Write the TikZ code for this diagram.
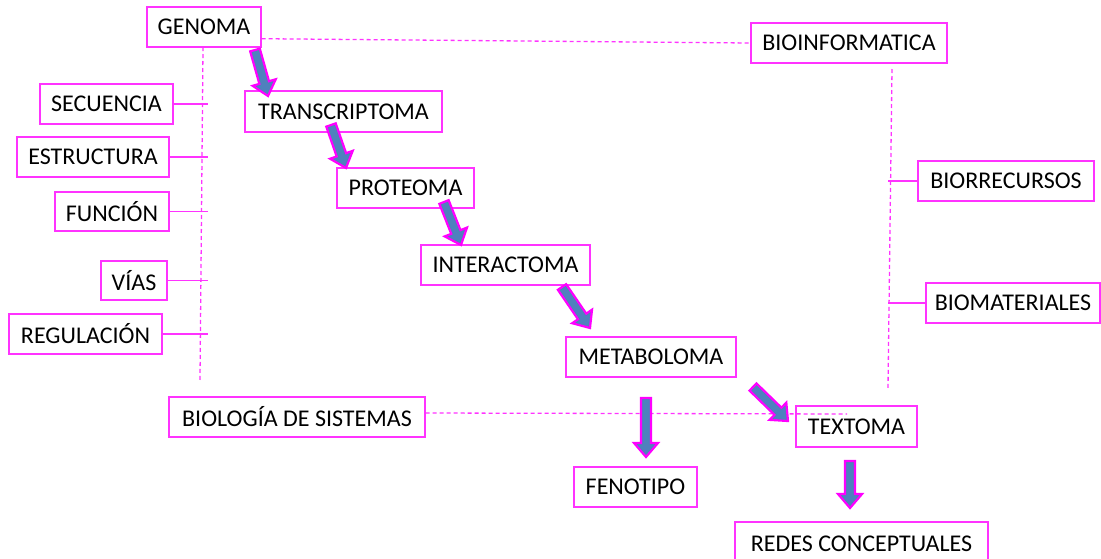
\documentclass[tikz,border=0pt]{standalone}
\usepackage{fontspec}
\setmainfont{Carlito}
\usetikzlibrary{calc}
\definecolor{mag}{HTML}{FF33FF}
\definecolor{amag}{HTML}{FF00FF}
\definecolor{ablue}{HTML}{4F81BD}
\tikzset{
  box/.style={draw=mag, line width=1.4pt, inner sep=0pt, font=\fontsize{24}{28}\selectfont, text=black},
  dline/.style={draw=mag, line width=1.3pt, dash pattern=on 4pt off 3pt},
  sline/.style={draw=mag, line width=1.3pt},
  fatarrow/.style={fill=ablue, draw=amag, line width=2.2pt, line join=miter},
}
\newcommand\bx[6]{%
  \pgfmathsetmacro\bxw{#4-#3}\pgfmathsetmacro\bxh{#6-#5}%
  \pgfmathsetmacro\bxx{(#3+#4)/2}\pgfmathsetmacro\bxy{(#5+#6)/2}%
  \node[box, minimum width=\bxw pt, minimum height=\bxh pt] (#1) at (\bxx,\bxy) {#2};}
\newcommand\fatarr[2]{%
  \coordinate (fh) at ($(#2)!14pt!(#1)$);
  \filldraw[fatarrow] ($(#1)!5pt!90:(#2)$) -- ($(fh)!5pt!90:(#2)$) -- ($(fh)!12pt!90:(#2)$) -- (#2)
    -- ($(fh)!12pt!-90:(#2)$) -- ($(fh)!5pt!-90:(#2)$) -- ($(#1)!5pt!-90:(#2)$) -- cycle;}
\begin{document}
\begin{tikzpicture}[x=1pt,y=-1pt]
\clip (0,0) rectangle (1101,558);
\fill[white] (0,0) rectangle (1101,558);
% boxes
\bx{genoma}{GENOMA}{147}{261}{7}{47}
\bx{transcriptoma}{TRANSCRIPTOMA}{245}{442}{91}{132}
\bx{proteoma}{PROTEOMA}{337}{474}{168}{208}
\bx{interactoma}{INTERACTOMA}{421}{590}{245}{285}
\bx{metaboloma}{METABOLOMA}{566}{736}{337}{377}
\bx{textoma}{TEXTOMA}{796}{917}{406}{447}
\bx{fenotipo}{FENOTIPO}{574}{697}{467}{507}
\bx{redes}{REDES CONCEPTUALES}{735}{988}{522}{566}
\bx{bioinf}{BIOINFORMATICA}{751}{947}{23}{63}
\bx{biorr}{BIORRECURSOS}{918}{1094}{161}{201}
\bx{biomat}{BIOMATERIALES}{926}{1100}{283}{323}
\bx{secuencia}{SECUENCIA}{40}{173}{84}{124}
\bx{estructura}{ESTRUCTURA}{17}{169}{137}{177}
\bx{funcion}{FUNCIÓN}{55}{169}{192}{231}
\bx{vias}{VÍAS}{101}{167}{261}{300}
\bx{regulacion}{REGULACIÓN}{9}{162}{314}{354}
\bx{biosis}{BIOLOGÍA DE SISTEMAS}{169}{425}{397}{437}
% coordinates
\coordinate (lvtop) at (203,47);
\coordinate (lvbot) at (200,380);
\coordinate (lx) at (208,0);
\coordinate (rvtop) at (892,69);
\coordinate (rvbot) at (888,388);
\coordinate (bsend) at (847,414);
% thin lines
\draw[dline] ($(genoma.south east)+(0,-9)$) -- (bioinf.west);
\draw[dline] (lvtop) -- (lvbot);
\draw[sline] (secuencia.east) -- (secuencia.east -| lx);
\draw[sline] (estructura.east) -- (estructura.east -| lx);
\draw[sline] (funcion.east) -- (funcion.east -| lx);
\draw[sline] (vias.east) -- (vias.east -| lx);
\draw[sline] (regulacion.east) -- (regulacion.east -| lx);
\draw[dline] (rvtop) -- (rvbot);
\draw[sline] (biorr.west) -- (biorr.west -| rvbot);
\draw[sline] (biomat.west) -- (biomat.west -| rvbot);
\draw[dline] ($(biosis.east)+(0,-4)$) -- (bsend);
% fat arrows
\coordinate (a1s) at (255,50);  \coordinate (a1e) at (268,96);
\coordinate (a2s) at (331,125); \coordinate (a2e) at (346,168);
\coordinate (a3s) at (444,202); \coordinate (a3e) at (461,245);
\coordinate (a4s) at (562,287); \coordinate (a4e) at (590,328);
\coordinate (a5s) at (753,387); \coordinate (a5e) at (788,421);
\coordinate (a6s) at (646,398); \coordinate (a6e) at (646,457);
\coordinate (a7s) at (850,461); \coordinate (a7e) at (850,508);
\fatarr{a1s}{a1e}
\fatarr{a2s}{a2e}
\fatarr{a3s}{a3e}
\fatarr{a4s}{a4e}
\fatarr{a5s}{a5e}
\fatarr{a6s}{a6e}
\fatarr{a7s}{a7e}
\end{tikzpicture}
\end{document}
